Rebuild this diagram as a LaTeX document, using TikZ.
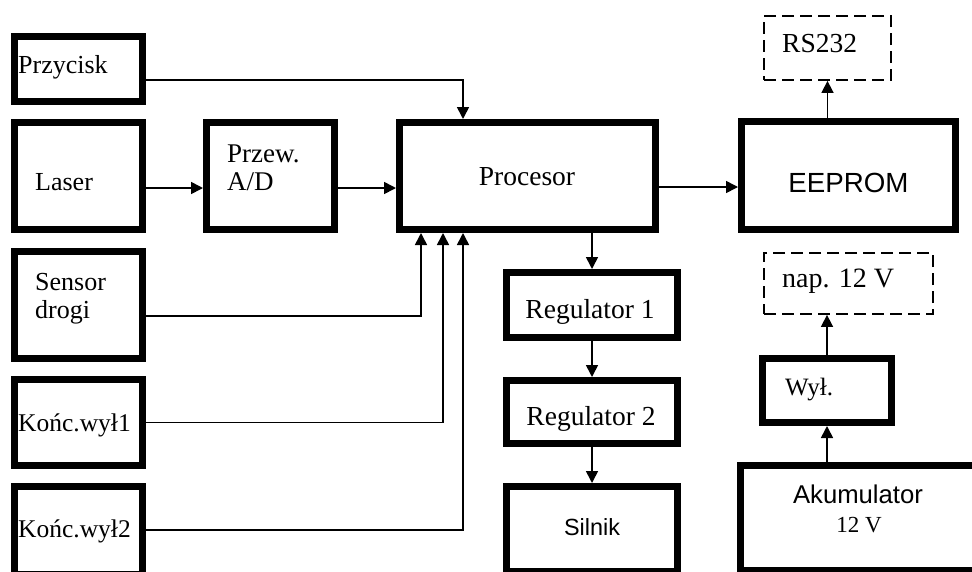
\documentclass[tikz,border=0pt]{standalone}
\usepackage{fontspec}
\setmainfont{Liberation Serif}
\newfontfamily\arialfont{Liberation Sans}
\usetikzlibrary{arrows.meta}
\newcommand\txtsize[1]{\fontsize{#1}{28}\selectfont}

\tikzset{
  blk/.style={draw, line width=7pt, inner sep=0pt, rectangle},
  optblk/.style={draw, line width=1.8pt, dash pattern=on 12pt off 6pt, inner sep=0pt, rectangle},
  lbl/.style={inner sep=0pt, font=\txtsize{#1}},
  slbl/.style={inner sep=0pt, font=\arialfont\txtsize{#1}},
  conn/.style={line width=1.6pt, -{Triangle[length=12pt,width=12pt]}},
}

\begin{document}
\begin{tikzpicture}[x=1pt,y=-1pt]
\useasboundingbox (0,0) rectangle (972,571);
\clip (0,0) rectangle (972,571);

% input blocks (left column)
\node[blk, minimum width=128pt, minimum height=65pt]  (przy)   at (78.5,69)  {};
\node[blk, minimum width=128pt, minimum height=107pt] (laser)  at (78.5,176) {};
\node[blk, minimum width=128pt, minimum height=107pt] (sensor) at (78.5,305) {};
\node[blk, minimum width=128pt, minimum height=86pt]  (k1)     at (78.5,422.5) {};
\node[blk, minimum width=128pt, minimum height=88pt]  (k2)     at (78.5,530) {};

% converter and processor
\node[blk, minimum width=128pt, minimum height=107pt] (adc)  at (270.5,176) {};
\node[blk, minimum width=256pt, minimum height=107pt] (proc) at (527.5,176) {};

% motor chain
\node[blk, minimum width=171pt, minimum height=65pt] (reg1)   at (592,305) {};
\node[blk, minimum width=171pt, minimum height=63pt] (reg2)   at (592,412) {};
\node[blk, minimum width=171pt, minimum height=85pt] (silnik) at (592,529) {};

% memory and power
\node[blk, minimum width=214pt, minimum height=108pt] (eeprom) at (848.5,175.5) {};
\node[optblk, minimum width=127pt, minimum height=64pt] (rs)   at (827.5,48) {};
\node[optblk, minimum width=169pt, minimum height=61pt] (nap)  at (848.5,283.5) {};
\node[blk, minimum width=129pt, minimum height=64pt]  (wyl)    at (827,390.5) {};
\node[blk, minimum width=241pt, minimum height=105pt] (akku)   at (861,518) {};

% labels
\node[lbl=26, anchor=base west] (tprzy) at (18,73) {Przycisk};
\node[lbl=26, anchor=base west] (tlaser) at (35,190) {Laser};
\node[lbl=27, anchor=base west] (tadc1) at (227,162) {Przew.};
\node[lbl=27, anchor=base west] (tadc2) at (227,190) {A/D};
\node[lbl=26, anchor=base west] (tsens1) at (35,290) {Sensor};
\node[lbl=26, anchor=base west] (tsens2) at (35,318) {drogi};
\node[lbl=25.5, anchor=base west] (tk1) at (18,431) {Końc.wył1};
\node[lbl=25.5, anchor=base west] (tk2) at (18,537) {Końc.wył2};
\node[lbl=27.5, anchor=base] (tproc) at (527,185) {Procesor};
\node[slbl=27.7, anchor=base] (teeprom) at (848.5,192) {EEPROM};
\node[lbl=27.5, anchor=base west] (trs) at (782,52) {RS232};
\node[lbl=27.5, anchor=base] (treg1) at (590,318) {Regulator 1};
\node[lbl=27.5, anchor=base] (treg2) at (591,425) {Regulator 2};
\node[slbl=23.4, anchor=base] (tsilnik) at (592,535) {Silnik};
\node[lbl=28, anchor=base west] (tnap) at (782,287) {nap. 12 V};
\node[lbl=25, anchor=base west] (twyl) at (785,395) {Wył.};
\node[slbl=25.7, anchor=base] (takku1) at (858,503) {Akumulator};
\node[lbl=23, anchor=base] (takku2) at (859,532) {12 V};

% signal paths
\draw[conn] ([yshift=-11pt]przy.east) -| ([xshift=-64.5pt]proc.north);
\draw[conn] ([yshift=-12pt]laser.east) -- ([yshift=-12pt]adc.west);
\draw[conn] ([yshift=-12pt]adc.east) -- ([yshift=-12pt]proc.west);
\draw[conn] ([yshift=-11pt]proc.east) -- ([yshift=-11.5pt]eeprom.west);
\draw[conn] ([yshift=-11pt]sensor.east) -| ([xshift=-106.5pt]proc.south);
\draw[conn] (k1.east) -| ([xshift=-84.5pt]proc.south);
\draw[conn] (k2.east) -| ([xshift=-64.5pt]proc.south);
\draw[conn] (reg1.north |- proc.south) -- (reg1.north);
\draw[conn] (reg1.south) -- (reg2.north);
\draw[conn] (reg2.south) -- (silnik.north);
\draw[conn] (rs.south |- eeprom.north) -- (rs.south);
\draw[conn] (wyl.south |- akku.north) -- (wyl.south);
\draw[conn] (wyl.north) -- (wyl.north |- nap.south);
\end{tikzpicture}
\end{document}
